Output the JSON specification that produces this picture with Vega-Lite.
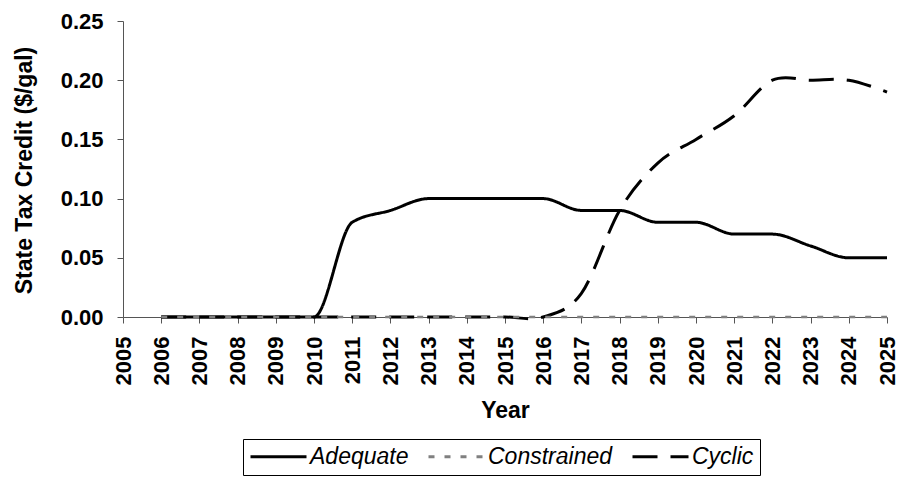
{
  "$schema": "https://vega.github.io/schema/vega-lite/v6.json",
  "autosize": "none",
  "width": 764,
  "height": 296,
  "padding": {"left": 123, "top": 21, "right": 10, "bottom": 160},
  "background": "white",
  "config": {
    "view": {"stroke": null},
    "font": "Liberation Sans",
    "axis": {"grid": false, "domainColor": "#555", "tickColor": "#555", "labelColor": "black", "titleColor": "black", "labelFont": "Liberation Sans", "titleFont": "Liberation Sans", "labelFontWeight": "bold", "titleFontWeight": "bold", "tickSize": 6},
    "legend": {"symbolType": "M-1,0H4.6", "symbolSize": 400, "symbolStrokeWidth": 3, "labelFont": "Liberation Sans", "labelFontSize": 23, "labelFontStyle": "italic", "labelColor": "black", "labelOffset": 38, "columnPadding": 13, "padding": 6, "strokeColor": "black", "fillColor": "white"}
  },
  "data": {
    "values": [
      {"year": 2006, "series": "Adequate", "value": 0},
      {"year": 2007, "series": "Adequate", "value": 0},
      {"year": 2008, "series": "Adequate", "value": 0},
      {"year": 2009, "series": "Adequate", "value": 0},
      {"year": 2010, "series": "Adequate", "value": 0},
      {"year": 2011, "series": "Adequate", "value": 0.08},
      {"year": 2012, "series": "Adequate", "value": 0.09},
      {"year": 2013, "series": "Adequate", "value": 0.1},
      {"year": 2014, "series": "Adequate", "value": 0.1},
      {"year": 2015, "series": "Adequate", "value": 0.1},
      {"year": 2016, "series": "Adequate", "value": 0.1},
      {"year": 2017, "series": "Adequate", "value": 0.09},
      {"year": 2018, "series": "Adequate", "value": 0.09},
      {"year": 2019, "series": "Adequate", "value": 0.08},
      {"year": 2020, "series": "Adequate", "value": 0.08},
      {"year": 2021, "series": "Adequate", "value": 0.07},
      {"year": 2022, "series": "Adequate", "value": 0.07},
      {"year": 2023, "series": "Adequate", "value": 0.06},
      {"year": 2024, "series": "Adequate", "value": 0.05},
      {"year": 2025, "series": "Adequate", "value": 0.05},
      {"year": 2006, "series": "Cyclic", "value": 0},
      {"year": 2007, "series": "Cyclic", "value": 0},
      {"year": 2008, "series": "Cyclic", "value": 0},
      {"year": 2009, "series": "Cyclic", "value": 0},
      {"year": 2010, "series": "Cyclic", "value": 0},
      {"year": 2011, "series": "Cyclic", "value": 0},
      {"year": 2012, "series": "Cyclic", "value": 0},
      {"year": 2013, "series": "Cyclic", "value": 0},
      {"year": 2014, "series": "Cyclic", "value": 0},
      {"year": 2015, "series": "Cyclic", "value": 0},
      {"year": 2016, "series": "Cyclic", "value": 0},
      {"year": 2017, "series": "Cyclic", "value": 0.02},
      {"year": 2018, "series": "Cyclic", "value": 0.09},
      {"year": 2019, "series": "Cyclic", "value": 0.13},
      {"year": 2020, "series": "Cyclic", "value": 0.15},
      {"year": 2021, "series": "Cyclic", "value": 0.17},
      {"year": 2022, "series": "Cyclic", "value": 0.2},
      {"year": 2023, "series": "Cyclic", "value": 0.2},
      {"year": 2024, "series": "Cyclic", "value": 0.2},
      {"year": 2025, "series": "Cyclic", "value": 0.19},
      {"year": 2006, "series": "Constrained", "value": 0},
      {"year": 2007, "series": "Constrained", "value": 0},
      {"year": 2008, "series": "Constrained", "value": 0},
      {"year": 2009, "series": "Constrained", "value": 0},
      {"year": 2010, "series": "Constrained", "value": 0},
      {"year": 2011, "series": "Constrained", "value": 0},
      {"year": 2012, "series": "Constrained", "value": 0},
      {"year": 2013, "series": "Constrained", "value": 0},
      {"year": 2014, "series": "Constrained", "value": 0},
      {"year": 2015, "series": "Constrained", "value": 0},
      {"year": 2016, "series": "Constrained", "value": 0},
      {"year": 2017, "series": "Constrained", "value": 0},
      {"year": 2018, "series": "Constrained", "value": 0},
      {"year": 2019, "series": "Constrained", "value": 0},
      {"year": 2020, "series": "Constrained", "value": 0},
      {"year": 2021, "series": "Constrained", "value": 0},
      {"year": 2022, "series": "Constrained", "value": 0},
      {"year": 2023, "series": "Constrained", "value": 0},
      {"year": 2024, "series": "Constrained", "value": 0},
      {"year": 2025, "series": "Constrained", "value": 0}
    ]
  },
  "encoding": {
    "x": {
      "field": "year", "type": "quantitative",
      "scale": {"domain": [2005, 2025], "nice": false, "zero": false},
      "axis": {"values": [2005,2006,2007,2008,2009,2010,2011,2012,2013,2014,2015,2016,2017,2018,2019,2020,2021,2022,2023,2024,2025], "format": "d", "labelAngle": -90, "labelFontSize": 22, "labelPadding": 13, "labelFlush": false, "labelOverlap": false, "title": "Year", "titleFontSize": 23, "titleBaseline": "alphabetic", "titleY": 100}
    },
    "y": {
      "field": "value", "type": "quantitative",
      "scale": {"domain": [0, 0.25], "nice": false},
      "axis": {"values": [0, 0.05, 0.1, 0.15, 0.2, 0.25], "format": ".2f", "labelFontSize": 22, "labelPadding": 14, "title": "State Tax Credit ($/gal)", "titleFontSize": 23, "titleBaseline": "alphabetic", "titleX": -92, "titleY": 149, "titleAlign": "center", "titleAngle": -90}
    },
    "color": {
      "field": "series", "type": "nominal",
      "scale": {"domain": ["Adequate", "Constrained", "Cyclic"], "range": ["black", "#808080", "black"]},
      "legend": {"title": null, "orient": "none", "legendX": 120, "legendY": 418, "direction": "horizontal"}
    },
    "strokeDash": {
      "field": "series", "type": "nominal",
      "scale": {"domain": ["Adequate", "Constrained", "Cyclic"], "range": [[1, 0], [6, 10], [25, 13]]},
      "legend": {"title": null, "orient": "none", "legendX": 120, "legendY": 418, "direction": "horizontal"}
    }
  },
  "layer": [
    {
      "transform": [{"filter": "datum.series === 'Adequate'"}],
      "mark": {"type": "line", "interpolate": "monotone", "strokeWidth": 3}
    },
    {
      "transform": [{"filter": "datum.series === 'Cyclic'"}],
      "mark": {"type": "line", "interpolate": "cardinal", "tension": 0, "strokeWidth": 3}
    },
    {
      "transform": [{"filter": "datum.series === 'Constrained'"}],
      "mark": {"type": "line", "strokeWidth": 2.5}
    }
  ]
}
